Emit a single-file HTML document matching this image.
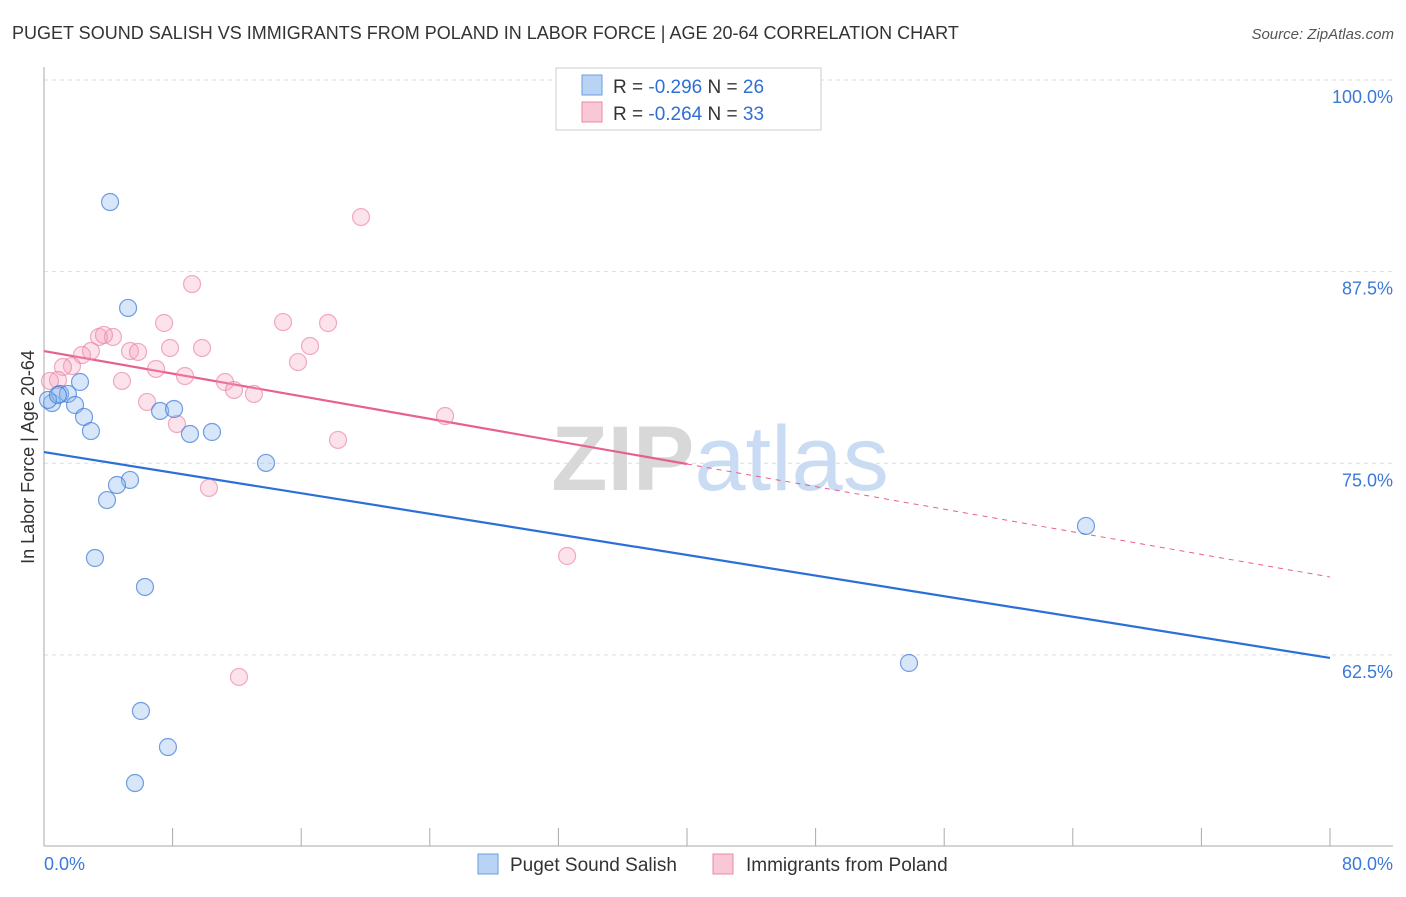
<!DOCTYPE html>
<html><head><meta charset="utf-8"><style>
body{margin:0;background:#fff;font-family:"Liberation Sans",sans-serif;}
svg text{font-family:"Liberation Sans",sans-serif;}
</style></head><body>
<svg id="chart" width="1406" height="892" viewBox="0 0 1406 892" xmlns="http://www.w3.org/2000/svg">
<text x="12" y="39" font-size="18" fill="#333">PUGET SOUND SALISH VS IMMIGRANTS FROM POLAND IN LABOR FORCE | AGE 20-64 CORRELATION CHART</text>
<text x="1394" y="39" font-size="15" fill="#555" text-anchor="end" font-style="italic">Source: ZipAtlas.com</text>
<g id="grid"></g>
<g id="axes"></g>
<text x="720" y="490" font-size="92" text-anchor="middle" fill="#ddd" font-family="Liberation Serif"><tspan fill="#d8d8d8" font-weight="bold">ZIP</tspan><tspan fill="#c9dcf3" font-family="Liberation Sans">atlas</tspan></text>
<text transform="translate(34,457) rotate(-90)" font-size="18" fill="#333" text-anchor="middle">In Labor Force | Age 20-64</text>
<g id="trends"></g>
<g id="points"></g>
<g>
<rect x="556" y="68" width="265" height="62" fill="#fff" stroke="#ccc"/>
<rect x="582" y="75" width="20" height="20" fill="#b9d3f5" stroke="#6a9de0"/>
<rect x="582" y="102" width="20" height="20" fill="#f9c8d6" stroke="#e98aa7"/>
<text x="613" y="93" font-size="19" fill="#333">R = <tspan fill="#2f6fd6">-0.296</tspan>   N = <tspan fill="#2f6fd6">26</tspan></text>
<text x="613" y="120" font-size="19" fill="#333">R = <tspan fill="#2f6fd6">-0.264</tspan>   N = <tspan fill="#2f6fd6">33</tspan></text>
</g>
<g>
<rect x="478" y="854" width="20" height="20" fill="#b9d3f5" stroke="#6a9de0"/>
<text x="510" y="871" font-size="19" fill="#333">Puget Sound Salish</text>
<rect x="713" y="854" width="20" height="20" fill="#f9c8d6" stroke="#e98aa7"/>
<text x="746" y="871" font-size="19" fill="#333">Immigrants from Poland</text>
</g>
</svg>
<script>
const yTicks=[100,87.5,75,62.5];
const yTickLabels=["100.0%","87.5%","75.0%","62.5%"];
const xTicks=[0,8,16,24,32,40,48,56,64,72,80];
const xEndLabels=["0.0%","80.0%"];
const blueX=[4.11,5.23,0.50,1.00,1.49,2.24,1.93,2.49,2.92,7.22,8.09,9.08,10.45,13.81,5.35,4.54,3.92,3.17,6.28,6.03,7.71,5.66,53.81,64.82,0.25,0.87];
const blueY=[92.04,85.13,78.93,79.52,79.52,80.30,78.80,78.02,77.10,78.41,78.54,76.91,77.04,75.02,73.91,73.58,72.60,68.82,66.93,58.84,56.49,54.14,61.97,70.91,79.13,79.45];
const pinkX=[19.72,9.21,14.87,17.67,7.47,3.42,4.29,3.73,2.92,2.36,5.35,5.85,9.83,7.84,16.55,15.80,1.74,1.18,6.97,8.77,4.85,11.26,11.82,13.06,0.87,0.37,6.41,8.27,24.95,18.29,10.26,32.54,12.13];
const pinkY=[91.06,86.69,84.21,84.15,84.15,83.24,83.24,83.37,82.32,82.06,82.32,82.26,82.52,82.52,82.65,81.60,81.34,81.28,81.15,80.69,80.37,80.30,79.78,79.52,80.43,80.37,79.00,77.56,78.08,76.52,73.39,68.95,61.06];
const blueTrend=[75.73,62.30];
const pinkTrend=[82.32,67.58];
const pinkSolidEnd=40;
const NS="http://www.w3.org/2000/svg";
const X0=44,X1=1330,Y100=80,PPU=15.33;
const xs=v=>X0+(v/80)*(X1-X0);
const ys=v=>Y100+(100-v)*PPU;
function mk(tag,attrs,parent){const e=document.createElementNS(NS,tag);for(const k in attrs)e.setAttribute(k,attrs[k]);parent.appendChild(e);return e;}
const grid=document.getElementById('grid'),axes=document.getElementById('axes');
yTicks.forEach((t,i)=>{
 const l=mk('line',{x1:X0,x2:1393,y1:ys(t),y2:ys(t),stroke:'#ddd','stroke-dasharray':'4,4'},grid);
 
 
 const tx=mk('text',{x:1393,y:ys(t)+23,'font-size':18,fill:'#3b78d8','text-anchor':'end'},axes);
 tx.textContent=yTickLabels[i];
 
 
});
const ya=mk('line',{x1:X0,x2:X0,y1:67,y2:846,stroke:'#aaa'},axes);


const xa=mk('line',{x1:X0,x2:1393,y1:846,y2:846,stroke:'#aaa'},axes);


xTicks.forEach(t=>{
 const l=mk('line',{x1:xs(t),x2:xs(t),y1:828,y2:846,stroke:'#aaa'},axes);
 
 
});
const xl0=mk('text',{x:X0,y:870,'font-size':18,fill:'#3b78d8'},axes);xl0.textContent=xEndLabels[0];


const xl1=mk('text',{x:1393,y:870,'font-size':18,fill:'#3b78d8','text-anchor':'end'},axes);xl1.textContent=xEndLabels[1];


const tr=document.getElementById('trends');
const bt=mk('line',{x1:xs(0),y1:ys(blueTrend[0]),x2:xs(80),y2:ys(blueTrend[1]),stroke:'#2c6fd9','stroke-width':2.2},tr);


const pm=pinkTrend[0]+(pinkTrend[1]-pinkTrend[0])*pinkSolidEnd/80;
const pt=mk('line',{x1:xs(0),y1:ys(pinkTrend[0]),x2:xs(pinkSolidEnd),y2:ys(pm),stroke:'#e8608c','stroke-width':2.2},tr);


const pd=mk('line',{x1:xs(pinkSolidEnd),y1:ys(pm),x2:xs(80),y2:ys(pinkTrend[1]),stroke:'#e8608c','stroke-width':1,'stroke-dasharray':'5,5'},tr);


const pg=document.getElementById('points');
pinkX.forEach((x,i)=>{
 const c=mk('circle',{cx:xs(x),cy:ys(pinkY[i]),r:8.5,fill:'rgba(244,160,188,0.3)',stroke:'rgba(232,120,156,0.6)','stroke-width':1.2},pg);
 
 
});
blueX.forEach((x,i)=>{
 const c=mk('circle',{cx:xs(x),cy:ys(blueY[i]),r:8.5,fill:'rgba(140,182,238,0.35)',stroke:'rgba(60,120,215,0.7)','stroke-width':1.2},pg);
 
 
});
</script>
</body></html>
